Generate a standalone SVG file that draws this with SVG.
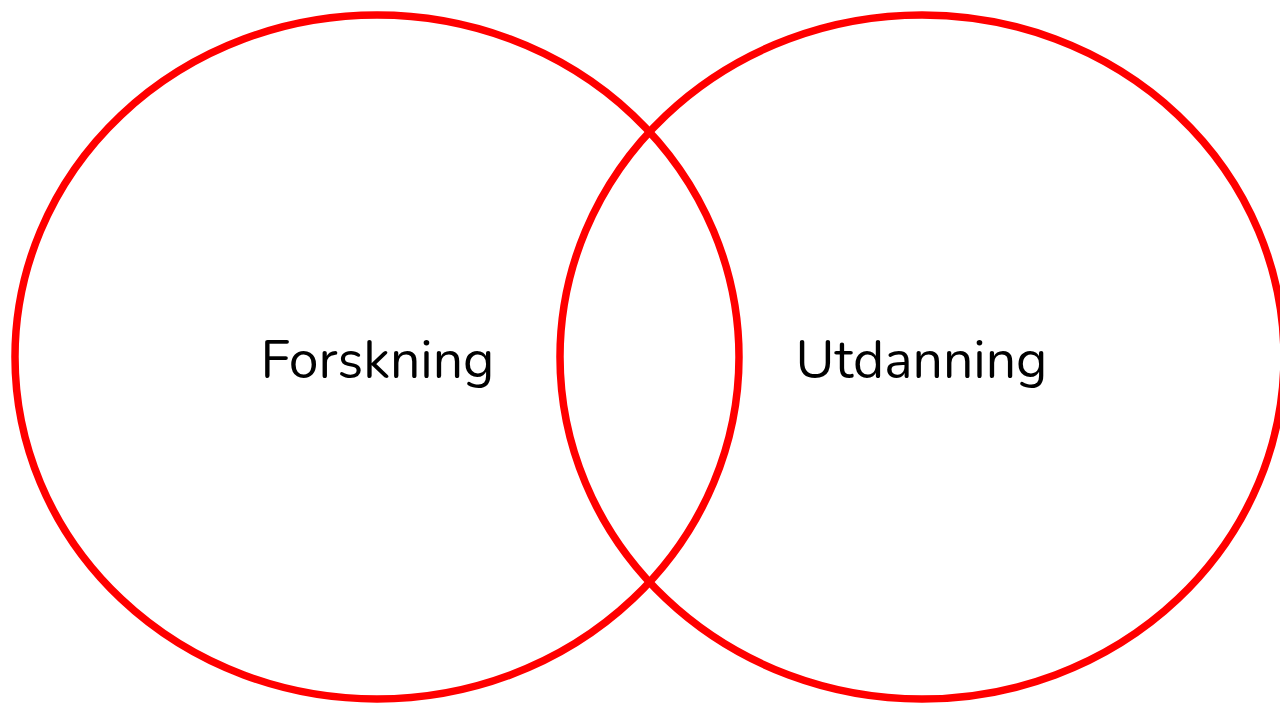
<svg xmlns="http://www.w3.org/2000/svg" width="1280" height="703" viewBox="0 0 1280 703">
<style>
.ring{fill:none;stroke:#ff0000;stroke-width:7.5}
.lbl{font-family:"Nunito","Lato","Noto Sans",sans-serif;font-size:53.5px;fill:#000;text-anchor:middle}
</style>
<rect width="1280" height="703" fill="#fff"/>
<g id="forskning">
<ellipse class="ring" cx="377" cy="357" rx="362" ry="342"/>
<text class="lbl" x="377.5" y="378">Forskning</text>
</g>
<g id="utdanning">
<ellipse class="ring" cx="922" cy="357" rx="362" ry="342"/>
<text class="lbl" x="921.5" y="378">Utdanning</text>
</g>
<g id="connectors"/>
</svg>
